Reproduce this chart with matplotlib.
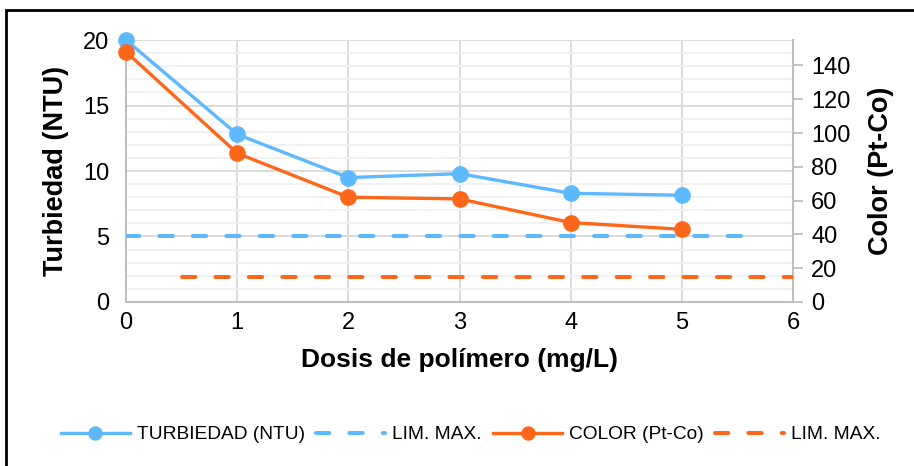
import matplotlib
matplotlib.use("Agg")
import matplotlib.pyplot as plt
from matplotlib.ticker import MultipleLocator
from matplotlib.patches import Rectangle

# data
dosis = [0, 1, 2, 3, 4, 5]
turbiedad = [20.0, 12.8, 9.5, 9.8, 8.3, 8.15]
color = [148, 88, 62, 61, 47, 43]
lim_turb_x = [0, 5.55]
lim_turb_y = [5, 5]
lim_color_x = [0.5, 6]
lim_color_y = [15, 15]

BLUE = "#5DB8FE"
ORANGE = "#FE6619"
GRID = "#D9D9D9"

plt.rcParams['font.family'] = ['Liberation Sans', 'DejaVu Sans']

fig = plt.figure(figsize=(9.14, 4.66), dpi=100)
ax = fig.add_axes([0.1379, 0.352, 0.7297, 0.562])
ax2 = ax.twinx()

# grid on the left axis
ax.set_xlim(0, 6)
ax.set_ylim(0, 20)
ax.yaxis.set_major_locator(MultipleLocator(5))
ax.yaxis.set_minor_locator(MultipleLocator(1))
ax.xaxis.set_major_locator(MultipleLocator(1))
ax.grid(which='major', color=GRID, lw=1.3)
ax.grid(which='minor', axis='y', color='#F0F0F0', lw=1.3)
ax.set_axisbelow(True)
for s in ['top', 'right']:
    ax.spines[s].set_visible(False)
for s in ['left', 'bottom']:
    ax.spines[s].set_color('#BFBFBF')
    ax.spines[s].set_linewidth(1.5)
ax.tick_params(which='both', length=0, labelsize=17, pad=7)
ax.tick_params(axis='y', pad=12)

ax2.set_ylim(0, 155)
ax2.set_yticks(range(0, 141, 20))
for s in ['top', 'left', 'bottom']:
    ax2.spines[s].set_visible(False)
ax2.spines['right'].set_color('#BFBFBF')
ax2.spines['right'].set_linewidth(1.5)
ax2.tick_params(axis='y', length=7, width=1.3, color='#BFBFBF', labelsize=17, pad=6)

dash = dict(lw=2.9, dashes=(3.3, 5), dash_capstyle='round')
l1, = ax.plot(dosis, turbiedad, color=BLUE, lw=2.4, marker='o', ms=11,
              label='TURBIEDAD (NTU)', clip_on=False, zorder=3)
l2, = ax.plot(lim_turb_x, lim_turb_y, color=BLUE, label='LIM. MAX.', zorder=3, **dash)
l3, = ax2.plot(dosis, color, color=ORANGE, lw=2.4, marker='o', ms=11,
               label='COLOR (Pt-Co)', clip_on=False, zorder=3)
l4, = ax2.plot(lim_color_x, lim_color_y, color=ORANGE, label='LIM. MAX.', zorder=3, **dash)

ax.set_ylabel('Turbiedad (NTU)', fontsize=19.5, fontweight='bold', labelpad=10)
ax2.set_ylabel('Color (Pt-Co)', fontsize=19.5, fontweight='bold', labelpad=13)
ax.set_xlabel('Dosis de polímero (mg/L)', fontsize=19, fontweight='bold', labelpad=10)

fig.legend(handles=[l1, l2, l3, l4], loc='center', bbox_to_anchor=(0.515, 0.067),
           ncol=4, frameon=False, handlelength=3.6, columnspacing=0.6,
           handletextpad=0.36, fontsize=13.8, markerscale=0.85)

# outer border of the chart area
fig.patches.append(Rectangle((6 / 914, -0.1), 1.1, 1.1 - 10 / 466,
                             transform=fig.transFigure, fill=False,
                             edgecolor='black', lw=2))

fig.savefig('out.png', dpi=100)
